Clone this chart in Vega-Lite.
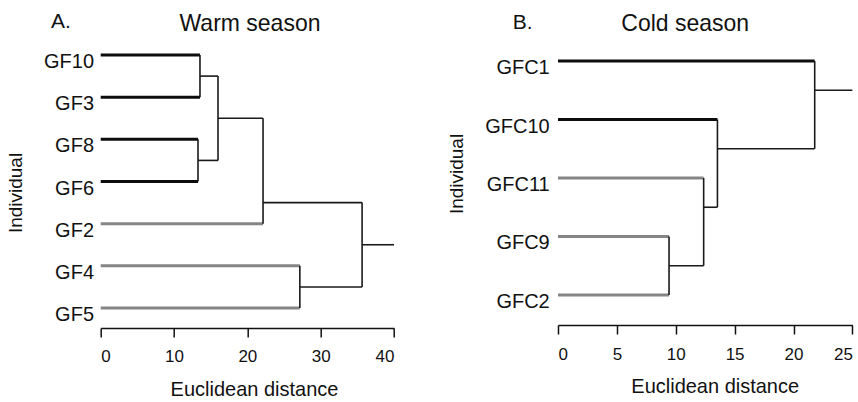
{
  "$schema": "https://vega.github.io/schema/vega-lite/v6.json",
  "autosize": {"type": "pad"},
  "padding": {"left": 6.7, "top": 10, "right": 0, "bottom": 0},
  "background": "white",
  "config": {
    "font": "Liberation Sans",
    "view": {"stroke": null},
    "text": {"color": "#111"}
  },
  "datasets": {
    "warm": [
      {"label": "GF10", "kind": "leaf-dark", "x": 0, "x2": 13.54, "y": 0, "y2": 0},
      {"label": "GF3", "kind": "leaf-dark", "x": 0, "x2": 13.54, "y": 1, "y2": 1},
      {"label": "GF8", "kind": "leaf-dark", "x": 0, "x2": 13.27, "y": 2, "y2": 2},
      {"label": "GF6", "kind": "leaf-dark", "x": 0, "x2": 13.27, "y": 3, "y2": 3},
      {"label": "GF2", "kind": "leaf-grey", "x": 0, "x2": 22.14, "y": 4, "y2": 4},
      {"label": "GF4", "kind": "leaf-grey", "x": 0, "x2": 27.16, "y": 5, "y2": 5},
      {"label": "GF5", "kind": "leaf-grey", "x": 0, "x2": 27.16, "y": 6, "y2": 6},
      {"kind": "branch", "x": 13.54, "x2": 13.54, "y": 0, "y2": 1},
      {"kind": "branch", "x": 13.54, "x2": 16.0, "y": 0.5, "y2": 0.5},
      {"kind": "branch", "x": 13.27, "x2": 13.27, "y": 2, "y2": 3},
      {"kind": "branch", "x": 13.27, "x2": 16.0, "y": 2.5, "y2": 2.5},
      {"kind": "branch", "x": 16.0, "x2": 16.0, "y": 0.5, "y2": 2.5},
      {"kind": "branch", "x": 16.0, "x2": 22.14, "y": 1.5, "y2": 1.5},
      {"kind": "branch", "x": 22.14, "x2": 22.14, "y": 1.5, "y2": 4},
      {"kind": "branch", "x": 22.14, "x2": 35.65, "y": 3.5, "y2": 3.5},
      {"kind": "branch", "x": 27.16, "x2": 27.16, "y": 5, "y2": 6},
      {"kind": "branch", "x": 27.16, "x2": 35.65, "y": 5.5, "y2": 5.5},
      {"kind": "branch", "x": 35.65, "x2": 35.65, "y": 3.5, "y2": 5.5},
      {"kind": "branch", "x": 35.65, "x2": 40, "y": 4.5, "y2": 4.5}
    ],
    "cold": [
      {"label": "GFC1", "kind": "leaf-dark", "x": 0, "x2": 21.8, "y": 0, "y2": 0},
      {"label": "GFC10", "kind": "leaf-dark", "x": 0, "x2": 13.54, "y": 1, "y2": 1},
      {"label": "GFC11", "kind": "leaf-grey", "x": 0, "x2": 12.37, "y": 2, "y2": 2},
      {"label": "GFC9", "kind": "leaf-grey", "x": 0, "x2": 9.43, "y": 3, "y2": 3},
      {"label": "GFC2", "kind": "leaf-grey", "x": 0, "x2": 9.43, "y": 4, "y2": 4},
      {"kind": "branch", "x": 9.43, "x2": 9.43, "y": 3, "y2": 4},
      {"kind": "branch", "x": 9.43, "x2": 12.37, "y": 3.5, "y2": 3.5},
      {"kind": "branch", "x": 12.37, "x2": 12.37, "y": 2, "y2": 3.5},
      {"kind": "branch", "x": 12.37, "x2": 13.54, "y": 2.5, "y2": 2.5},
      {"kind": "branch", "x": 13.54, "x2": 13.54, "y": 1, "y2": 2.5},
      {"kind": "branch", "x": 13.54, "x2": 21.8, "y": 1.5, "y2": 1.5},
      {"kind": "branch", "x": 21.8, "x2": 21.8, "y": 0, "y2": 1.5},
      {"kind": "branch", "x": 21.8, "x2": 25, "y": 0.5, "y2": 0.5}
    ]
  },
  "hconcat": [
    {
      "width": 293.3,
      "height": 287,
      "data": {"name": "warm"},
      "encoding": {
        "x": {
          "field": "x", "type": "quantitative",
          "scale": {"domain": [0, 40], "nice": false, "zero": false},
          "axis": {
            "values": [0, 10, 20, 30, 40], "grid": false,
            "domainColor": "#111", "domainWidth": 1.5, "tickColor": "#111", "tickWidth": 1.5, "tickSize": 9,
            "labelFont": "Liberation Sans", "labelFontSize": 17, "labelColor": "#111", "labelPadding": 12,
            "title": "Euclidean distance", "titleFont": "Liberation Sans", "titleFontSize": 20, "titleFontWeight": "normal", "titleColor": "#111",
            "titleBaseline": "alphabetic", "titleAlign": "center", "titleX": 153.3, "titleY": 68
          }
        },
        "y": {
          "field": "y", "type": "quantitative",
          "scale": {"domain": [-0.332, 6.474], "reverse": true, "nice": false, "zero": false},
          "axis": {
            "domain": false, "ticks": false, "labels": false, "grid": false,
            "title": "Individual", "titleFont": "Liberation Sans", "titleFontSize": 19, "titleFontWeight": "normal", "titleColor": "#111",
            "titleBaseline": "alphabetic", "titleAlign": "center", "titleAngle": -90, "titleX": -78.7, "titleY": 151.5
          }
        }
      },
      "layer": [
        {
          "transform": [{"filter": "datum.kind === 'leaf-grey'"}],
          "mark": {"type": "rule", "color": "#858585", "strokeWidth": 3},
          "encoding": {"x2": {"field": "x2"}, "y2": {"field": "y2"}}
        },
        {
          "transform": [{"filter": "datum.kind === 'leaf-dark'"}],
          "mark": {"type": "rule", "color": "#0d0d0d", "strokeWidth": 3},
          "encoding": {"x2": {"field": "x2"}, "y2": {"field": "y2"}}
        },
        {
          "transform": [{"filter": "datum.kind === 'branch'"}],
          "mark": {"type": "rule", "color": "#1a1a1a", "strokeWidth": 1.6},
          "encoding": {"x2": {"field": "x2"}, "y2": {"field": "y2"}}
        },
        {
          "transform": [{"filter": "isValid(datum.label)"}],
          "mark": {"type": "text", "align": "right", "baseline": "middle", "dx": -6.7, "dy": 7, "fontSize": 20, "color": "#111"},
          "encoding": {"text": {"field": "label"}}
        },
        {
          "transform": [{"filter": "datum.label === 'GF10'"}],
          "mark": {"type": "text", "align": "left", "baseline": "alphabetic", "fontSize": 21, "color": "#111"},
          "encoding": {"x": {"datum": -6.78}, "y": {"datum": -0.647}, "text": {"value": "A."}}
        },
        {
          "transform": [{"filter": "datum.label === 'GF10'"}],
          "mark": {"type": "text", "align": "center", "baseline": "alphabetic", "fontSize": 23, "color": "#111"},
          "encoding": {"x": {"datum": 20.36}, "y": {"datum": -0.58}, "text": {"value": "Warm season"}}
        }
      ]
    },
    {
      "width": 294.4,
      "height": 284,
      "data": {"name": "cold"},
      "encoding": {
        "x": {
          "field": "x", "type": "quantitative",
          "scale": {"domain": [0, 25], "nice": false, "zero": false},
          "axis": {
            "values": [0, 5, 10, 15, 20, 25], "grid": false,
            "domainColor": "#111", "domainWidth": 1.5, "tickColor": "#111", "tickWidth": 1.5, "tickSize": 9,
            "labelFont": "Liberation Sans", "labelFontSize": 17, "labelColor": "#111", "labelPadding": 13,
            "title": "Euclidean distance", "titleFont": "Liberation Sans", "titleFontSize": 20, "titleFontWeight": "normal", "titleColor": "#111",
            "titleBaseline": "alphabetic", "titleAlign": "center", "titleX": 156.7, "titleY": 67.7
          }
        },
        "y": {
          "field": "y", "type": "quantitative",
          "scale": {"domain": [-0.342, 4.513], "reverse": true, "nice": false, "zero": false},
          "axis": {
            "domain": false, "ticks": false, "labels": false, "grid": false,
            "title": "Individual", "titleFont": "Liberation Sans", "titleFontSize": 19, "titleFontWeight": "normal", "titleColor": "#111",
            "titleBaseline": "alphabetic", "titleAlign": "center", "titleAngle": -90, "titleX": -95, "titleY": 132.5
          }
        }
      },
      "layer": [
        {
          "transform": [{"filter": "datum.kind === 'leaf-grey'"}],
          "mark": {"type": "rule", "color": "#858585", "strokeWidth": 3},
          "encoding": {"x2": {"field": "x2"}, "y2": {"field": "y2"}}
        },
        {
          "transform": [{"filter": "datum.kind === 'leaf-dark'"}],
          "mark": {"type": "rule", "color": "#0d0d0d", "strokeWidth": 3},
          "encoding": {"x2": {"field": "x2"}, "y2": {"field": "y2"}}
        },
        {
          "transform": [{"filter": "datum.kind === 'branch'"}],
          "mark": {"type": "rule", "color": "#1a1a1a", "strokeWidth": 1.6},
          "encoding": {"x2": {"field": "x2"}, "y2": {"field": "y2"}}
        },
        {
          "transform": [{"filter": "isValid(datum.label)"}],
          "mark": {"type": "text", "align": "right", "baseline": "middle", "dx": -8.3, "dy": 7, "fontSize": 20, "color": "#111"},
          "encoding": {"text": {"field": "label"}}
        },
        {
          "transform": [{"filter": "datum.label === 'GFC1'"}],
          "mark": {"type": "text", "align": "left", "baseline": "alphabetic", "fontSize": 21, "color": "#111"},
          "encoding": {"x": {"datum": -3.85}, "y": {"datum": -0.542}, "text": {"value": "B."}}
        },
        {
          "transform": [{"filter": "datum.label === 'GFC1'"}],
          "mark": {"type": "text", "align": "center", "baseline": "alphabetic", "fontSize": 23, "color": "#111"},
          "encoding": {"x": {"datum": 10.8}, "y": {"datum": -0.513}, "text": {"value": "Cold season"}}
        }
      ]
    }
  ],
  "spacing": 163.3,
  "bounds": "flush"
}
